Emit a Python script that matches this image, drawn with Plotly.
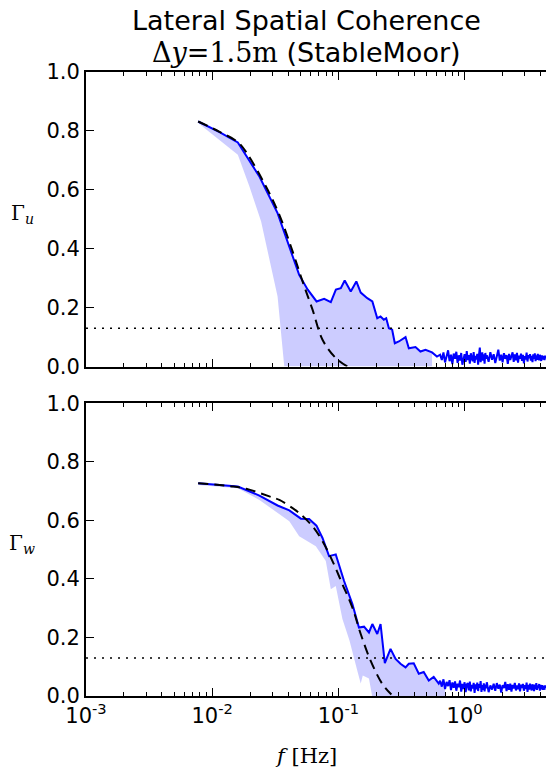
import plotly.graph_objects as go

# ---------------- data ----------------
# measured coherence, top panel (Gamma_u)
u_freq = [0.00774, 0.01143, 0.01596, 0.02366, 0.03296, 0.03837, 0.04887, 0.05715,
          0.06714, 0.07709, 0.08710, 0.09550, 0.1045, 0.1122, 0.1253, 0.1387,
          0.1503, 0.1694, 0.1858, 0.2032, 0.2158, 0.2291, 0.2393, 0.2512,
          0.2667, 0.2799, 0.3013, 0.3404, 0.3614, 0.4083, 0.4467, 0.4898,
          0.5521, 0.6039]
u_coh = [0.832, 0.796, 0.761, 0.645, 0.521, 0.442, 0.311, 0.261,
         0.221, 0.230, 0.219, 0.261, 0.266, 0.292, 0.255, 0.289,
         0.251, 0.232, 0.221, 0.164, 0.170, 0.159, 0.164, 0.130,
         0.125, 0.079, 0.085, 0.100, 0.062, 0.066, 0.051, 0.057,
         0.048, 0.034]

# measured coherence, bottom panel (Gamma_w)
w_freq = [0.00774, 0.01596, 0.02366, 0.03296, 0.04083, 0.05047, 0.05861, 0.06699,
          0.07482, 0.08433, 0.09528, 0.1109, 0.1291, 0.1455, 0.1596, 0.1746,
          0.1858, 0.2032, 0.2158, 0.2333, 0.2588, 0.2838, 0.3105, 0.3404,
          0.3614, 0.3954, 0.4335, 0.4742, 0.5200, 0.5689, 0.6237]
w_coh = [0.727, 0.716, 0.685, 0.651, 0.634, 0.606, 0.605, 0.582,
         0.540, 0.478, 0.484, 0.393, 0.314, 0.234, 0.237, 0.217,
         0.246, 0.212, 0.246, 0.112, 0.161, 0.127, 0.110, 0.098,
         0.110, 0.112, 0.076, 0.082, 0.053, 0.065, 0.042]

# high-frequency noise floor (shared frequency grid)
tail_freq = [0.64, 0.66, 0.68, 0.70, 0.72, 0.74, 0.76, 0.78, 0.80, 0.82,
             0.84, 0.86, 0.88, 0.90, 0.92, 0.94, 0.96, 0.98, 1.00, 1.02,
             1.04, 1.06, 1.08, 1.10, 1.12, 1.14, 1.16, 1.18, 1.20, 1.22,
             1.24, 1.26, 1.28, 1.30, 1.32, 1.34, 1.36, 1.38, 1.40, 1.42,
             1.44, 1.46, 1.48, 1.50,
             1.55, 1.60, 1.65, 1.70, 1.75, 1.80, 1.85, 1.90, 1.95, 2.00,
             2.05, 2.10, 2.15, 2.20, 2.25, 2.30, 2.35, 2.40, 2.45, 2.50,
             2.55, 2.60, 2.65, 2.70, 2.75, 2.80, 2.85, 2.90, 2.95, 3.00,
             3.05, 3.10, 3.15, 3.20, 3.25, 3.30, 3.35, 3.40, 3.45, 3.50,
             3.55, 3.60, 3.65, 3.70, 3.75, 3.80, 3.85, 3.90, 3.95, 4.00,
             4.05, 4.10, 4.15, 4.20, 4.25, 4.30, 4.35, 4.40]
u_tail = [0.040, 0.022, 0.048, 0.014, 0.035, 0.055, 0.018, 0.040, 0.008, 0.044,
          0.026, 0.050, 0.012, 0.038, 0.020, 0.046, 0.006, 0.033, 0.042, 0.016,
          0.052, 0.022, 0.039, 0.010, 0.045, 0.028, 0.018, 0.049, 0.012, 0.036,
          0.024, 0.043, 0.006, 0.040, 0.064, 0.015, 0.035, 0.048, 0.020, 0.041,
          0.010, 0.046, 0.026, 0.038,
          0.016, 0.049, 0.023, 0.042, 0.012, 0.036, 0.057, 0.020, 0.040, 0.014,
          0.045, 0.026, 0.039, 0.009, 0.043, 0.022, 0.035, 0.048, 0.016, 0.041,
          0.021, 0.046, 0.013, 0.037, 0.027, 0.044, 0.019, 0.040, 0.011, 0.035,
          0.024, 0.047, 0.017, 0.039, 0.028, 0.042, 0.020, 0.036, 0.015, 0.041,
          0.026, 0.045, 0.018, 0.038, 0.023, 0.043, 0.030, 0.021, 0.040, 0.027,
          0.019, 0.038, 0.024, 0.036, 0.028, 0.022, 0.037, 0.026]
w_tail = [0.052, 0.032, 0.057, 0.024, 0.048, 0.034, 0.054, 0.020, 0.046, 0.028,
          0.050, 0.018, 0.042, 0.030, 0.053, 0.015, 0.041, 0.024, 0.047, 0.013,
          0.039, 0.044, 0.019, 0.049, 0.016, 0.038, 0.026, 0.045, 0.011, 0.040,
          0.023, 0.046, 0.017, 0.041, 0.028, 0.051, 0.014, 0.037, 0.021, 0.043,
          0.016, 0.039, 0.026, 0.047,
          0.013, 0.036, 0.022, 0.042, 0.018, 0.044, 0.025, 0.039, 0.012, 0.037,
          0.027, 0.048, 0.017, 0.040, 0.021, 0.042, 0.015, 0.038, 0.026, 0.045,
          0.019, 0.036, 0.023, 0.043, 0.016, 0.039, 0.027, 0.041, 0.018, 0.037,
          0.024, 0.046, 0.014, 0.038, 0.022, 0.042, 0.028, 0.019, 0.040, 0.025,
          0.017, 0.039, 0.023, 0.044, 0.021, 0.036, 0.027, 0.041, 0.018, 0.038,
          0.024, 0.037, 0.021, 0.035, 0.026, 0.022, 0.036, 0.027]

# lower edge of the shaded band
u_low_freq = [0.00774, 0.01596, 0.01972, 0.02438, 0.03296, 0.03724]
u_low = [0.827, 0.719, 0.611, 0.493, 0.238, 0.0]
w_low_freq = [0.00774, 0.01596, 0.02366, 0.04083, 0.04887, 0.06622, 0.07943, 0.0871,
              0.0953, 0.1076, 0.1224, 0.1424, 0.1503, 0.1560, 0.1746, 0.1850]
w_low = [0.721, 0.710, 0.670, 0.597, 0.546, 0.512, 0.461, 0.365,
         0.376, 0.263, 0.190, 0.080, 0.043, 0.070, 0.060, 0.0]
u_band_end = 0.56
w_band_end = 0.705

# model fits (dashed)
u_fit_freq = [0.00774, 0.01143, 0.01596, 0.01858, 0.02667, 0.03404, 0.04335, 0.05200,
              0.06237, 0.07482, 0.09528, 0.1178]
u_fit = [0.832, 0.797, 0.762, 0.728, 0.611, 0.515, 0.391, 0.289,
         0.193, 0.091, 0.029, 0.0]
w_fit_freq = [0.00774, 0.01455, 0.01858, 0.02838, 0.03404, 0.04335, 0.04887, 0.06237,
              0.07482, 0.08974, 0.1076, 0.1291, 0.1503, 0.1799, 0.2223, 0.2630]
w_fit = [0.727, 0.716, 0.708, 0.682, 0.670, 0.642, 0.625, 0.580,
         0.529, 0.461, 0.382, 0.302, 0.212, 0.121, 0.042, 0.005]

threshold = 0.13

x_tickvals = [0.001, 0.01, 0.1, 1]
x_ticktext = ["10<sup>-3</sup>", "10<sup>-2</sup>", "10<sup>-1</sup>", "10<sup>0</sup>"]
y_tickvals = [0.0, 0.2, 0.4, 0.6, 0.8, 1.0]
y_ticktext = ["0.0", "0.2", "0.4", "0.6", "0.8", "1.0"]

# ---------------- figure ----------------
BLUE = "#0000ff"
SHADE = "rgba(0,0,255,0.2)"
SANS = "DejaVu Sans"
SERIF = "DejaVu Serif"

fig = go.Figure()


def add_panel(freq, coh, tail, low_f, low_v, band_end, fit_f, fit_v, xa, ya):
    full_f = freq + tail_freq
    full_c = coh + tail
    up_f = [f for f in full_f if f <= band_end]
    up_c = full_c[:len(up_f)]
    poly_x = up_f + [up_f[-1]] + low_f[::-1]
    poly_y = up_c + [0.0] + low_v[::-1]
    fig.add_trace(go.Scatter(x=poly_x, y=poly_y, fill="toself", fillcolor=SHADE,
                             line=dict(width=0), mode="lines", hoverinfo="skip",
                             showlegend=False, xaxis=xa, yaxis=ya))
    fig.add_trace(go.Scatter(x=full_f, y=full_c, mode="lines",
                             line=dict(color=BLUE, width=2),
                             showlegend=False, xaxis=xa, yaxis=ya))
    fig.add_trace(go.Scatter(x=fit_f, y=fit_v, mode="lines",
                             line=dict(color="black", width=2, dash="10px,6px", shape="spline"),
                             showlegend=False, xaxis=xa, yaxis=ya))


add_panel(u_freq, u_coh, u_tail, u_low_freq, u_low, u_band_end, u_fit_freq, u_fit, "x", "y")
add_panel(w_freq, w_coh, w_tail, w_low_freq, w_low, w_band_end, w_fit_freq, w_fit, "x2", "y2")

for yref in ["y", "y2"]:
    fig.add_shape(type="line", xref="paper", x0=0, x1=1, yref=yref, y0=threshold, y1=threshold,
                  line=dict(color="black", width=1.5, dash="2px,6px"))

minor_vals = [m * 10 ** e for e in (-3, -2, -1, 0) for m in range(2, 10)]

xcommon = dict(type="log", range=[-3, 0.645], showline=True, linecolor="black", linewidth=2,
               mirror="ticks", ticks="inside", ticklen=8, tickwidth=1, tickcolor="black",
               tickvals=x_tickvals, ticktext=x_ticktext, showgrid=False, zeroline=False,
               minor=dict(tickvals=minor_vals, ticks="inside", ticklen=4, tickcolor="black",
                          showgrid=False),
               tickfont=dict(family=SANS, size=21, color="black"))
ycommon = dict(range=[0, 1], showline=True, linecolor="black", linewidth=2, mirror=False,
               ticks="inside", ticklen=8, tickwidth=1, tickcolor="black",
               tickvals=y_tickvals, ticktext=y_ticktext, showgrid=False, zeroline=False,
               tickfont=dict(family=SANS, size=21, color="black"))

fig.update_layout(
    width=546, height=769, autosize=False,
    margin=dict(l=86, r=0, t=72, b=73),
    plot_bgcolor="white", paper_bgcolor="white",
    xaxis=dict(xcommon, anchor="y", showticklabels=False),
    yaxis=dict(ycommon, domain=[0.528, 1.0], anchor="x"),
    xaxis2=dict(xcommon, anchor="y2"),
    yaxis2=dict(ycommon, domain=[0.0, 0.469], anchor="x2"),
    showlegend=False,
)

XC = (306 - 86) / 460
# titles and labels
fig.add_annotation(text="Lateral Spatial Coherence", xref="paper", yref="paper",
                   x=XC, y=1, yshift=52, xanchor="center", yanchor="middle",
                   showarrow=False, font=dict(family=SANS, size=27, color="black"))
fig.add_annotation(text="<span style='font-family:DejaVu Serif'>Δ<i>y</i>=1.5m</span> (StableMoor)",
                   xref="paper", yref="paper",
                   x=XC, y=1, yshift=20, xanchor="center", yanchor="middle",
                   showarrow=False, font=dict(family=SANS, size=27, color="black"))
fig.add_annotation(text="Γ<sub><i>u</i></sub>", xref="paper", yref="paper",
                   x=0, xshift=-64, y=(696 - 214) / 624, yanchor="middle", xanchor="center",
                   showarrow=False, font=dict(family=SERIF, size=20, color="black"))
fig.add_annotation(text="Γ<sub><i>w</i></sub>", xref="paper", yref="paper",
                   x=0, xshift=-64, y=(696 - 544) / 624, yanchor="middle", xanchor="center",
                   showarrow=False, font=dict(family=SERIF, size=20, color="black"))
fig.add_annotation(text="<i>f</i> [Hz]", xref="paper", yref="paper",
                   x=XC, y=0, yshift=-60, xanchor="center", yanchor="middle",
                   showarrow=False, font=dict(family=SERIF, size=21, color="black"))

fig.write_html("out.html", config={"responsive": False, "displayModeBar": False},
               post_script="document.body.style.margin='0';document.body.style.overflow='hidden';")
